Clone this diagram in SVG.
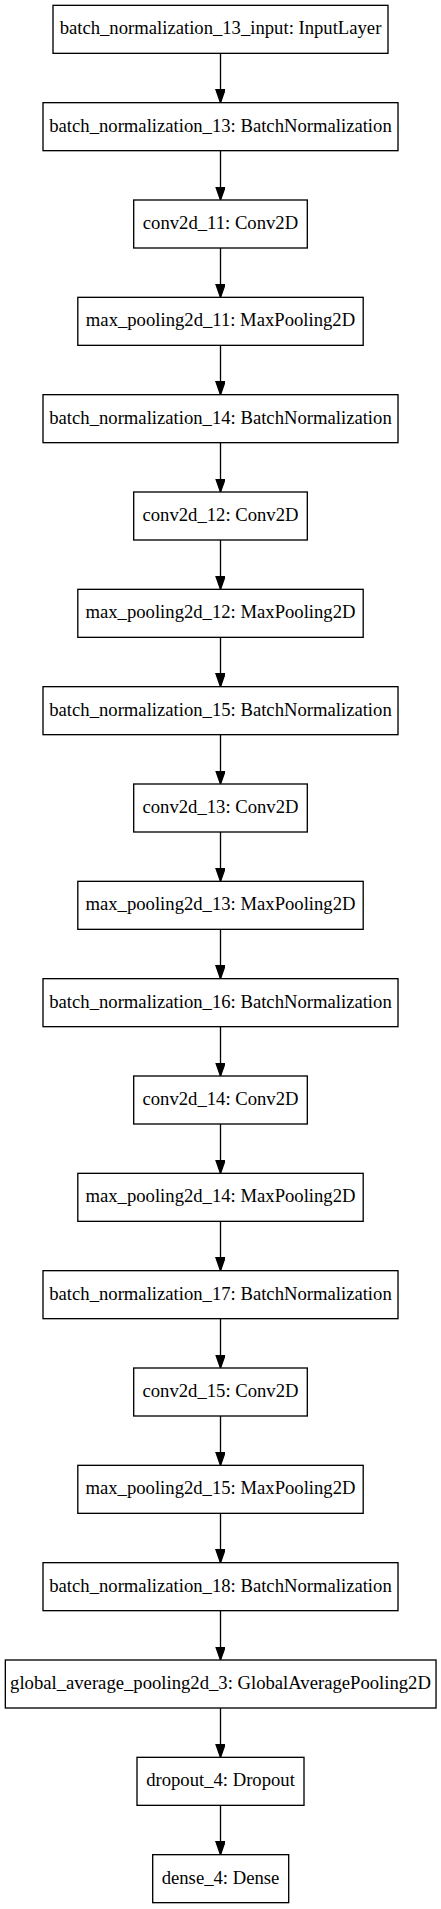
<svg xmlns="http://www.w3.org/2000/svg" width="441" height="1909" viewBox="0 0 441 1909">
<style>
.n rect{fill:#ffffff;stroke:#000000;stroke-width:1.33}
.n text{font-family:"Liberation Serif","Times New Roman",serif;font-size:18.67px;text-anchor:middle;fill:#000000}
.e line{stroke:#000000;stroke-width:1.33;marker-end:url(#ah)}
</style>
<defs>
<marker id="ah" markerUnits="userSpaceOnUse" markerWidth="14" markerHeight="10" refX="13.33" refY="4.67" orient="auto">
<path d="M0,0 L13.33,4.67 L0,9.33 z" fill="#000000" stroke="#000000" stroke-width="1.33"/>
</marker>
</defs>
<rect width="441" height="1909" fill="#ffffff"/>
<g id="connectors" class="e">
<line x1="220.5" y1="53.33" x2="220.5" y2="102.67"/>
<line x1="220.5" y1="150.67" x2="220.5" y2="200"/>
<line x1="220.5" y1="248" x2="220.5" y2="297.33"/>
<line x1="220.5" y1="345.33" x2="220.5" y2="394.67"/>
<line x1="220.5" y1="442.67" x2="220.5" y2="492"/>
<line x1="220.5" y1="540" x2="220.5" y2="589.33"/>
<line x1="220.5" y1="637.33" x2="220.5" y2="686.67"/>
<line x1="220.5" y1="734.67" x2="220.5" y2="784"/>
<line x1="220.5" y1="832" x2="220.5" y2="881.33"/>
<line x1="220.5" y1="929.33" x2="220.5" y2="978.67"/>
<line x1="220.5" y1="1026.67" x2="220.5" y2="1076"/>
<line x1="220.5" y1="1124" x2="220.5" y2="1173.33"/>
<line x1="220.5" y1="1221.33" x2="220.5" y2="1270.67"/>
<line x1="220.5" y1="1318.67" x2="220.5" y2="1368"/>
<line x1="220.5" y1="1416" x2="220.5" y2="1465.33"/>
<line x1="220.5" y1="1513.33" x2="220.5" y2="1562.67"/>
<line x1="220.5" y1="1610.67" x2="220.5" y2="1660"/>
<line x1="220.5" y1="1708" x2="220.5" y2="1757.33"/>
<line x1="220.5" y1="1805.33" x2="220.5" y2="1854.67"/>
</g>
<g id="n0" class="n"><rect x="53" y="5.33" width="335" height="48"/><text x="220.5" y="34.4">batch_normalization_13_input: InputLayer</text></g>
<g id="n1" class="n"><rect x="43" y="102.67" width="355" height="48"/><text x="220.5" y="131.73">batch_normalization_13: BatchNormalization</text></g>
<g id="n2" class="n"><rect x="133.7" y="200" width="173.6" height="48"/><text x="220.5" y="229.07">conv2d_11: Conv2D</text></g>
<g id="n3" class="n"><rect x="77.8" y="297.33" width="285.4" height="48"/><text x="220.5" y="326.4">max_pooling2d_11: MaxPooling2D</text></g>
<g id="n4" class="n"><rect x="43" y="394.67" width="355" height="48"/><text x="220.5" y="423.73">batch_normalization_14: BatchNormalization</text></g>
<g id="n5" class="n"><rect x="133.7" y="492" width="173.6" height="48"/><text x="220.5" y="521.07">conv2d_12: Conv2D</text></g>
<g id="n6" class="n"><rect x="77.8" y="589.33" width="285.4" height="48"/><text x="220.5" y="618.4">max_pooling2d_12: MaxPooling2D</text></g>
<g id="n7" class="n"><rect x="43" y="686.67" width="355" height="48"/><text x="220.5" y="715.73">batch_normalization_15: BatchNormalization</text></g>
<g id="n8" class="n"><rect x="133.7" y="784" width="173.6" height="48"/><text x="220.5" y="813.07">conv2d_13: Conv2D</text></g>
<g id="n9" class="n"><rect x="77.8" y="881.33" width="285.4" height="48"/><text x="220.5" y="910.4">max_pooling2d_13: MaxPooling2D</text></g>
<g id="n10" class="n"><rect x="43" y="978.67" width="355" height="48"/><text x="220.5" y="1007.73">batch_normalization_16: BatchNormalization</text></g>
<g id="n11" class="n"><rect x="133.7" y="1076" width="173.6" height="48"/><text x="220.5" y="1105.07">conv2d_14: Conv2D</text></g>
<g id="n12" class="n"><rect x="77.8" y="1173.33" width="285.4" height="48"/><text x="220.5" y="1202.4">max_pooling2d_14: MaxPooling2D</text></g>
<g id="n13" class="n"><rect x="43" y="1270.67" width="355" height="48"/><text x="220.5" y="1299.73">batch_normalization_17: BatchNormalization</text></g>
<g id="n14" class="n"><rect x="133.7" y="1368" width="173.6" height="48"/><text x="220.5" y="1397.07">conv2d_15: Conv2D</text></g>
<g id="n15" class="n"><rect x="77.8" y="1465.33" width="285.4" height="48"/><text x="220.5" y="1494.4">max_pooling2d_15: MaxPooling2D</text></g>
<g id="n16" class="n"><rect x="43" y="1562.67" width="355" height="48"/><text x="220.5" y="1591.73">batch_normalization_18: BatchNormalization</text></g>
<g id="n17" class="n"><rect x="5.33" y="1660" width="430.7" height="48"/><text x="220.5" y="1689.07">global_average_pooling2d_3: GlobalAveragePooling2D</text></g>
<g id="n18" class="n"><rect x="137" y="1757.33" width="167" height="48"/><text x="220.5" y="1786.4">dropout_4: Dropout</text></g>
<g id="n19" class="n"><rect x="152.7" y="1854.67" width="136" height="48"/><text x="220.5" y="1883.73">dense_4: Dense</text></g>
</svg>
